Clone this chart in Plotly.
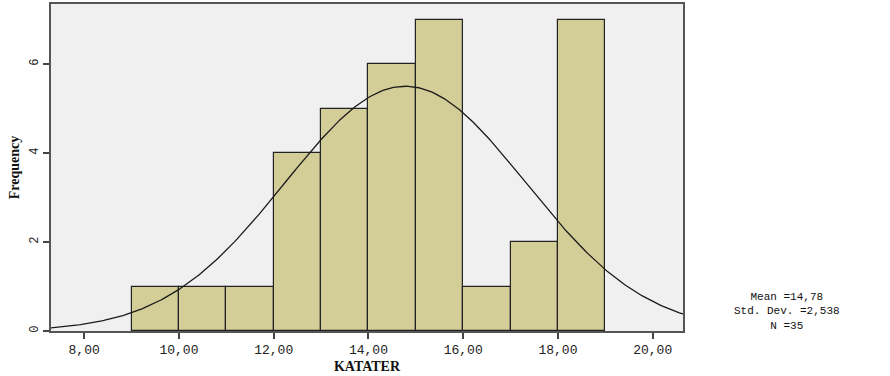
import numpy as np
import plotly.graph_objects as go

bin_left = [9, 10, 11, 12, 13, 14, 15, 16, 17, 18]
bin_width = 1.0
frequency = [1, 1, 1, 4, 5, 6, 7, 1, 2, 7]
mean_val = 14.78
std_val = 2.538
n_val = 35
x_tick_vals = [8, 10, 12, 14, 16, 18, 20]
x_tick_text = ["8,00", "10,00", "12,00", "14,00", "16,00", "18,00", "20,00"]
y_tick_vals = [0, 2, 4, 6]

x_range = [7.30, 20.64]
y_range = [0, 7.35]

centers = [b + bin_width / 2 for b in bin_left]
xc = np.linspace(x_range[0], x_range[1], 300)
yc = n_val * bin_width / (std_val * np.sqrt(2 * np.pi)) * np.exp(-0.5 * ((xc - mean_val) / std_val) ** 2)

mono = "Liberation Mono, Courier New, monospace"
serif = "Liberation Serif, serif"

fig = go.Figure()
fig.add_trace(go.Bar(x=centers, y=frequency, width=bin_width,
                     marker=dict(color="#D3CE98", line=dict(color="#222222", width=1.2)),
                     hoverinfo="x+y"))
fig.add_trace(go.Scatter(x=xc, y=yc, mode="lines", line=dict(color="#1a1a1a", width=1.3),
                         hoverinfo="skip"))

fig.update_layout(
    width=890, height=376,
    margin=dict(l=51, r=207, t=4, b=45),
    paper_bgcolor="white",
    plot_bgcolor="#F0F0F0",
    showlegend=False,
    bargap=0,
    xaxis=dict(range=x_range, tickvals=x_tick_vals, ticktext=x_tick_text,
               ticks="outside", ticklen=6, tickwidth=1.5, tickcolor="#444",
               showgrid=False, zeroline=False, showline=True, linecolor="#555",
               linewidth=1.5, mirror=True, automargin=False,
               tickfont=dict(family=mono, size=13, color="#222"),
               title=dict(text="<b>KATATER</b>", font=dict(family=serif, size=14, color="#111"),
                          standoff=4)),
    yaxis=dict(range=y_range, tickvals=y_tick_vals, tickangle=-90,
               ticks="outside", ticklen=6, tickwidth=1.5, tickcolor="#444",
               showgrid=False, zeroline=False, showline=True, linecolor="#555",
               linewidth=1.5, mirror=True, automargin=False,
               tickfont=dict(family=mono, size=12, color="#222"),
               title=dict(text="<b>Frequency</b>", font=dict(family=serif, size=14, color="#111"),
                          standoff=6)),
    annotations=[dict(
        text=f"Mean ={str(mean_val).replace('.', ',')}<br>Std. Dev. ={str(std_val).replace('.', ',')}<br>N ={n_val}",
        xref="paper", yref="paper", x=1.0, y=0.06, xanchor="center", yanchor="middle",
        xshift=104, showarrow=False, align="center",
        font=dict(family=mono, size=11, color="#111"))]
)

fig.write_html("out.html", config={"displayModeBar": False},
               post_script="document.body.style.margin='0';document.body.style.overflow='hidden';")
